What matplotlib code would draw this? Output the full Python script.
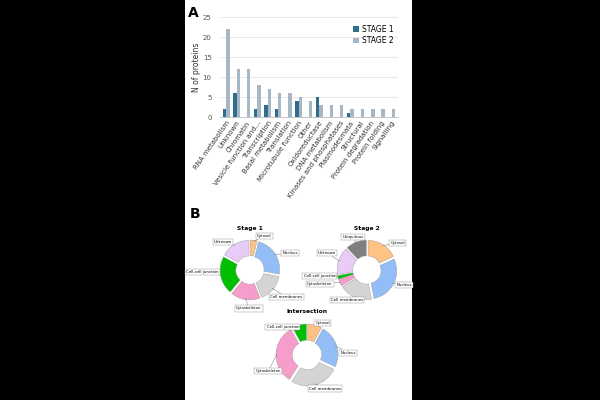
import numpy as np
import matplotlib
matplotlib.use('Agg')
import matplotlib.pyplot as plt

# panel A data
categories = ['RNA metabolism', 'Unknown', 'Chromatin', 'Vesicle function and...',
              'Transcription', 'Basal metabolism', 'Translation', 'Microtubule function',
              'Other', 'Oxidoreductase', 'DNA metabolism', 'Kinases and phosphatases',
              'Plasmodesmata', 'Structural', 'Protein degradation', 'Protein folding',
              'Signalling']
stage1 = [2, 6, 0, 2, 3, 2, 0, 4, 0, 5, 0, 0, 1, 0, 0, 0, 0]
stage2 = [22, 12, 12, 8, 7, 6, 6, 5, 4, 3, 3, 3, 2, 2, 2, 2, 2]

# panel B data (percent of proteins per localisation)
loc_colors = {'Cytosol': '#FFC285', 'Nucleus': '#92BDF6', 'Cell membranes': '#D4D4D4',
              'Cytoskeleton': '#F59DCB', 'Cell-cell junction': '#00BF00',
              'Unknown': '#E8CBF6', 'Ubiquitous': '#7F7F7F'}
s1_labels = ['Cytosol', 'Nucleus', 'Cell membranes', 'Cytoskeleton', 'Cell-cell junction', 'Unknown']
s1_values = [4, 24, 16, 17, 22, 17]
s2_labels = ['Cytosol', 'Nucleus', 'Cell membranes', 'Cytoskeleton', 'Cell-cell junction', 'Unknown', 'Ubiquitous']
s2_values = [18, 29, 19, 4, 2, 16, 12]
int_labels = ['Cytosol', 'Nucleus', 'Cell membranes', 'Cytoskeleton', 'Cell-cell junction']
int_values = [8, 24, 27, 33, 8]

# label box positions in radius units (layout)
s1_pos = [(0.52, 1.22), (1.44, 0.6), (1.3, -0.96), (-0.04, -1.37), (-1.7, -0.07), (-0.96, 1.0)]
s2_pos = [(1.1, 0.96), (1.32, -0.54), (-0.71, -1.07), (-1.68, -0.5), (-1.68, -0.21), (-1.43, 0.6), (-0.5, 1.18)]
int_pos = [(0.55, 1.1), (1.41, 0.07), (0.62, -1.16), (-1.34, -0.55), (-0.83, 0.97)]

W, H = 600, 400
fig = plt.figure(figsize=(6, 4), dpi=100, facecolor='black')

bg = fig.add_axes([185 / W, 0, 227 / W, 1])
bg.set_facecolor('white')
bg.set_xticks([])
bg.set_yticks([])
for s in bg.spines.values():
    s.set_visible(False)

# ---- panel A
ax = fig.add_axes([220 / W, 1 - 117 / H, 178 / W, 100 / H])
x = np.arange(len(categories))
bw = 0.33
ax.bar(x - bw / 2, stage1, bw, color='#2F6E8C', label='STAGE 1', zorder=3)
ax.bar(x + bw / 2, stage2, bw, color='#A8B7C6', label='STAGE 2', zorder=3)
ax.set_ylim(0, 25)
ax.set_xlim(-0.6, len(categories) - 0.4)
ax.set_yticks([0, 5, 10, 15, 20, 25])
ax.yaxis.grid(True, color='#E3E3E3', linewidth=0.6, zorder=0)
ax.set_xticks(x)
ax.set_xticklabels(categories, rotation=55, ha='right', rotation_mode='anchor', fontsize=5, color='#333333')
ax.tick_params(axis='y', labelsize=5, colors='#555555', length=0, pad=6)
ax.tick_params(axis='x', length=0, pad=2)
for s in ['top', 'right', 'left']:
    ax.spines[s].set_visible(False)
ax.spines['bottom'].set_color('#BBBBBB')
ax.spines['bottom'].set_linewidth(0.6)
ax.set_ylabel('N of proteins', fontsize=5.5, color='#333333', labelpad=1)
ax.legend(loc='upper right', frameon=False, fontsize=5.5, handlelength=0.7, handleheight=0.7,
          handletextpad=0.4, borderaxespad=0.2, labelspacing=0.3, bbox_to_anchor=(1.0, 0.97))

fig.text(188 / W, 1 - 13 / H, 'A', fontsize=10, fontweight='bold', va='center')
fig.text(190 / W, 1 - 214 / H, 'B', fontsize=10, fontweight='bold', va='center')


# ---- panel B
def donut(cx, cy, r, labels, values, pos, title):
    lim = 1.7
    size = 2 * lim * r
    a = fig.add_axes([(cx - size / 2) / W, 1 - (cy + size / 2) / H, size / W, size / H])
    wedges, _ = a.pie(values, colors=[loc_colors[l] for l in labels], startangle=90,
                      counterclock=False, explode=[0.07] * len(values), radius=1,
                      wedgeprops=dict(width=0.56, edgecolor='#9A9A9A', linewidth=0.3))
    a.set_xlim(-lim, lim)
    a.set_ylim(-lim, lim)
    a.axis('off')
    for w, lab, (tx, ty) in zip(wedges, labels, pos):
        ang = np.deg2rad((w.theta1 + w.theta2) / 2)
        ex, ey = np.cos(ang) * 1.03, np.sin(ang) * 1.03
        a.annotate(lab, xy=(ex, ey), xytext=(tx, ty), fontsize=2.8, ha='center', va='center',
                   bbox=dict(boxstyle='square,pad=0.3', fc='white', ec='#888888', lw=0.3),
                   arrowprops=dict(arrowstyle='-', color='#666666', lw=0.3, shrinkA=0, shrinkB=0),
                   annotation_clip=False)
    a.text(0, 1.5, title, fontsize=4.3, fontweight='bold', ha='center', va='center')


donut(250, 270, 28, s1_labels, s1_values, s1_pos, 'Stage 1')
donut(367, 270, 28, s2_labels, s2_values, s2_pos, 'Stage 2')
donut(307, 355, 29, int_labels, int_values, int_pos, 'Intersection')

fig.savefig('out.png', dpi=100, facecolor='black')
